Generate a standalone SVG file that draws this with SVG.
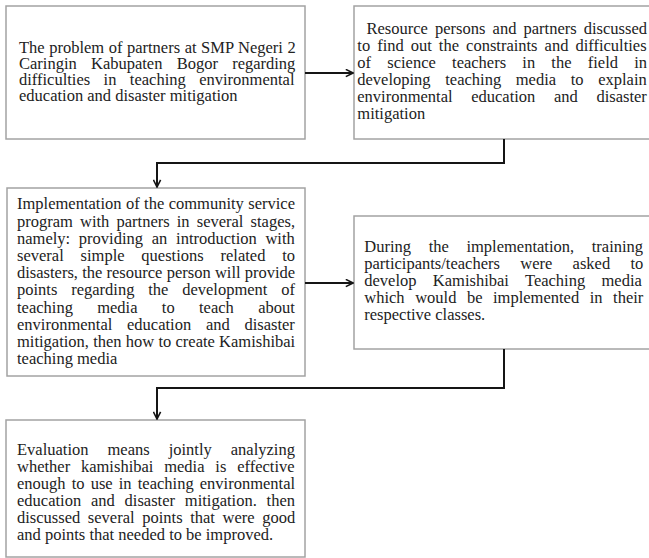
<svg xmlns="http://www.w3.org/2000/svg" width="649" height="558" viewBox="0 0 649 558">
<style>
.box{fill:#fff;stroke:#a3a3a3;stroke-width:1.5}
.t{font-family:"Liberation Serif","Times New Roman",serif;font-size:16.5px;fill:#222}
.c{fill:none;stroke:#151515;stroke-width:2}
</style>
<defs>
<marker id="arr" viewBox="0 0 10 10" refX="9" refY="5" markerWidth="9" markerHeight="9" orient="auto" markerUnits="userSpaceOnUse">
<path d="M1,1 L9,5 L1,9" fill="none" stroke="#151515" stroke-width="1.8"/>
</marker>
</defs>
<rect width="649" height="558" fill="#fff"/>
<g id="n1">
<rect class="box" x="6" y="6" width="299" height="133"/>
<text class="t">
<tspan x="19" y="52.7" word-spacing="0.4">The problem of partners at SMP Negeri 2</tspan>
<tspan x="19" y="68.9" word-spacing="10.1">Caringin Kabupaten Bogor regarding</tspan>
<tspan x="19" y="85.1" word-spacing="9.3">difficulties in teaching environmental</tspan>
<tspan x="19" y="101.3">education and disaster mitigation</tspan>
</text>
</g>
<g id="n2">
<rect class="box" x="354" y="6" width="310" height="133"/>
<text class="t">
<tspan x="366.5" y="33.8" word-spacing="3">Resource persons and partners discussed</tspan>
<tspan x="357.3" y="50.9" word-spacing="2.9">to find out the constraints and difficulties</tspan>
<tspan x="357.3" y="68" word-spacing="12.1">of science teachers in the field in</tspan>
<tspan x="357.3" y="85.1" word-spacing="10.5">developing teaching media to explain</tspan>
<tspan x="357.3" y="102.2" word-spacing="14.5">environmental education and disaster</tspan>
<tspan x="357.3" y="119.3">mitigation</tspan>
</text>
</g>
<g id="n3">
<rect class="box" x="7" y="188" width="298" height="188"/>
<text class="t">
<tspan x="17" y="209.3" word-spacing="0.3">Implementation of the community service</tspan>
<tspan x="17" y="226.5" word-spacing="3">program with partners in several stages,</tspan>
<tspan x="17" y="243.7" word-spacing="4.6">namely: providing an introduction with</tspan>
<tspan x="17" y="260.9" word-spacing="12.7">several simple questions related to</tspan>
<tspan x="17" y="278.1" word-spacing="0.1">disasters, the resource person will provide</tspan>
<tspan x="17" y="295.3" word-spacing="9.7">points regarding the development of</tspan>
<tspan x="17" y="312.5" word-spacing="20.2">teaching media to teach about</tspan>
<tspan x="17" y="329.7" word-spacing="10.6">environmental education and disaster</tspan>
<tspan x="17" y="346.9" word-spacing="0.1">mitigation, then how to create Kamishibai</tspan>
<tspan x="17" y="364.1">teaching media</tspan>
</text>
</g>
<g id="n4">
<rect class="box" x="354" y="216" width="310" height="133"/>
<text class="t">
<tspan x="364.3" y="252" word-spacing="13.5">During the implementation, training</tspan>
<tspan x="364.3" y="268.9" word-spacing="16.2">participants/teachers were asked to</tspan>
<tspan x="364.3" y="285.8" word-spacing="12.2">develop Kamishibai Teaching media</tspan>
<tspan x="364.3" y="302.7" word-spacing="6.4">which would be implemented in their</tspan>
<tspan x="364.3" y="319.6">respective classes.</tspan>
</text>
</g>
<g id="n5">
<rect class="box" x="6" y="420" width="299" height="137"/>
<text class="t">
<tspan x="17" y="455" word-spacing="14.9">Evaluation means jointly analyzing</tspan>
<tspan x="17" y="472" word-spacing="6.7">whether kamishibai media is effective</tspan>
<tspan x="17" y="489" word-spacing="2">enough to use in teaching environmental</tspan>
<tspan x="17" y="506" word-spacing="5.7">education and disaster mitigation. then</tspan>
<tspan x="17" y="523" word-spacing="3.5">discussed several points that were good</tspan>
<tspan x="17" y="540">and points that needed to be improved.</tspan>
</text>
</g>
<g id="connectors">
<path class="c" d="M305,73 H353" marker-end="url(#arr)"/>
<path class="c" d="M504,139 V163 H157 V187" marker-end="url(#arr)"/>
<path class="c" d="M305,283 H353" marker-end="url(#arr)"/>
<path class="c" d="M504,349 V388 H157 V419" marker-end="url(#arr)"/>
</g>
</svg>
